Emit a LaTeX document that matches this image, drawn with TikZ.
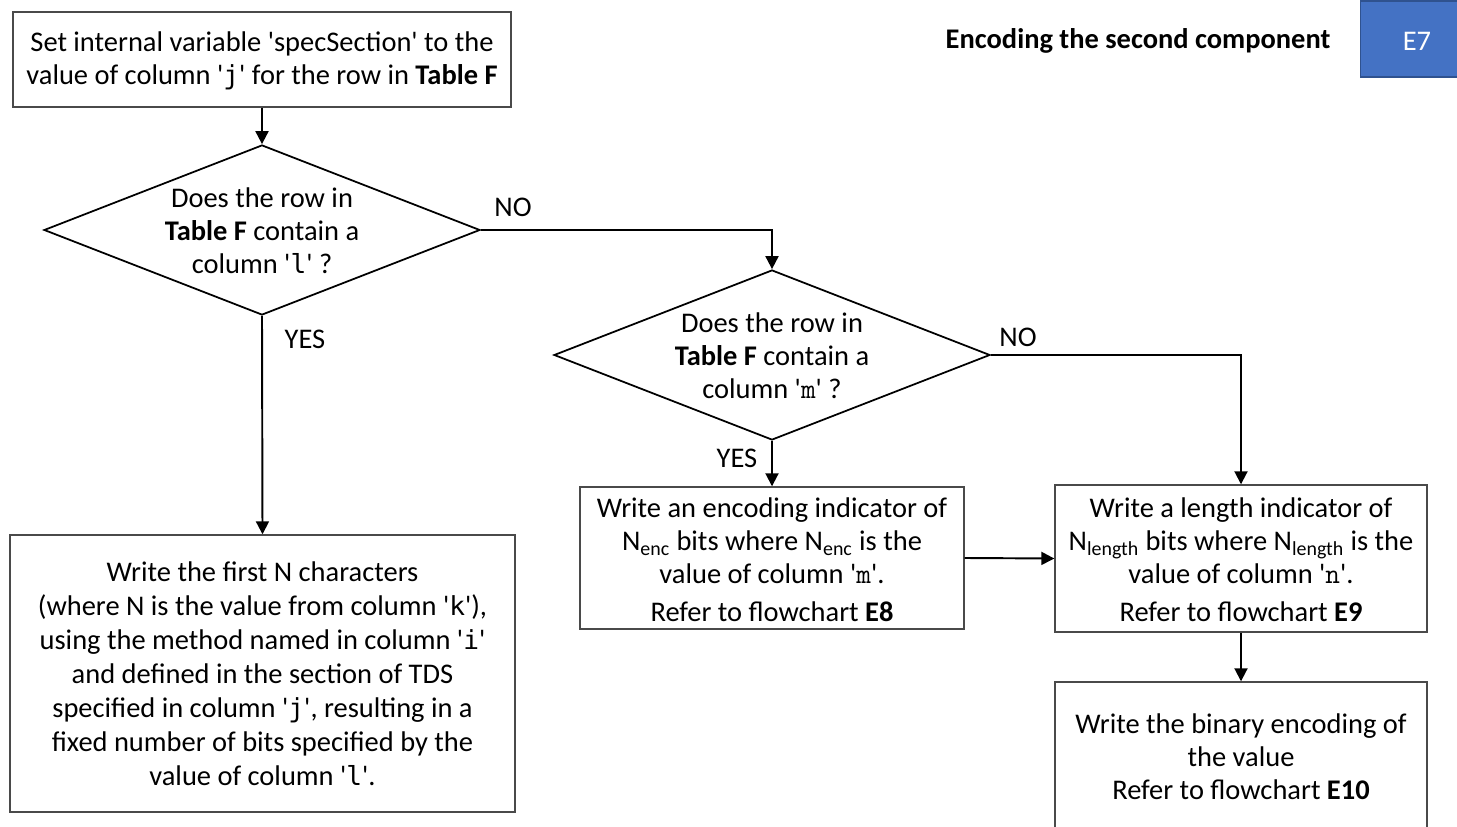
\documentclass[tikz,border=0pt]{standalone}
\usepackage{fontspec}
\setmainfont{Carlito}
\newfontfamily\consmono[Scale=0.92]{DejaVu Sans Mono}
\newfontfamily\courmono[Scale=1.0]{Latin Modern Mono}
\usetikzlibrary{shapes.geometric,arrows.meta}
\definecolor{boxline}{HTML}{4A4A4A}
\definecolor{tagblue}{HTML}{4472C4}
\definecolor{tagedge}{HTML}{2F528F}
\newcommand{\sq}{\textquotesingle}
\newcommand{\cmo}[1]{\sq{\consmono #1}\sq}
\newcommand{\cou}[1]{\sq{\courmono #1}\sq}
\begin{document}
\begin{tikzpicture}[x=0.02cm,y=-0.02cm,
  font=\fontsize{16.2}{18.9}\selectfont,
  procbox/.style={draw=boxline,line width=0.8pt,align=center,inner sep=0pt},
  decision/.style={diamond,draw=black,line width=1pt,inner sep=0pt},
  flow/.style={line width=1.1pt,-{Triangle[length=7.4pt,width=7.4pt]}},
  lbl/.style={inner sep=0pt}]
\useasboundingbox (0,0) rectangle (1457,827);

% title and tag
\node[lbl,font=\fontsize{16.2}{18.9}\selectfont\bfseries] (title) at (1138,41) {Encoding the second component};
\node[fill=tagblue,draw=tagedge,line width=0.6pt,minimum width=97*0.02cm,minimum height=76*0.02cm,
  inner sep=0pt] (tag) at (1409,39) {};
\node[lbl,text=white] (tagtext) at (1417,41) {E7};

% process boxes
\node[procbox,minimum width=498*0.02cm,minimum height=95*0.02cm] (set) at (262,59.5) {};
\node[lbl,align=center] (settext) at (262,61)
  {Set internal variable \sq specSection\sq{} to the\\ value of column \cmo{j} for the row in \textbf{Table F}};

\node[decision,minimum width=436*0.02cm,minimum height=170*0.02cm] (d1) at (262,230) {};
\node[lbl,align=center] (d1text) at (262,231) {Does the row in\\ \textbf{Table F} contain a\\ column \cmo{l} ?};

\node[decision,minimum width=436*0.02cm,minimum height=170*0.02cm] (d2) at (772,355) {};
\node[lbl,align=center] (d2text) at (772,356) {Does the row in\\ \textbf{Table F} contain a\\ column \cou{m} ?};

\node[procbox,minimum width=505*0.02cm,minimum height=277*0.02cm,
  font=\fontsize{16.2}{19.3}\selectfont] (chars) at (262.5,673.5)
  {Write the first N characters\\ (where N is the value from column \cmo{k}),\\
   using the method named in column \cmo{i}\\ and defined in the section of TDS\\
   specified in column \cmo{j}, resulting in a\\ fixed number of bits specified by the\\
   value of column \cmo{l}.};

\node[procbox,minimum width=384*0.02cm,minimum height=142*0.02cm] (enc) at (772,558) {};
\node[lbl,align=center] (enctext) at (772,559.5)
  {Write an encoding indicator of\\ N\textsubscript{enc} bits where N\textsubscript{enc} is the\\
   value of column \cou{m}.\\[2.2pt] Refer to flowchart \textbf{E8}};

\node[procbox,minimum width=372*0.02cm,minimum height=147*0.02cm] (len) at (1241,558.5) {};
\node[lbl,align=center] (lentext) at (1241,559.5)
  {Write a length indicator of\\ N\textsubscript{length} bits where N\textsubscript{length} is the\\
   value of column \cou{n}.\\[2.2pt] Refer to flowchart \textbf{E9}};

% last box runs past the lower edge
\begin{scope}
\clip (0,0) rectangle (1457,827);
\node[procbox,minimum width=372*0.02cm,minimum height=200*0.02cm] (bin) at (1241,782) {};
\end{scope}
\node[lbl,align=center] (bintext) at (1241,757)
  {Write the binary encoding of\\ the value\\ Refer to flowchart \textbf{E10}};

% connectors
\draw[flow] (set.south) -- (d1.north);
\draw[flow] (d1.south) -- (chars.north);
\draw[flow] (d1.east) -| (d2.north);
\draw[flow] (d2.south) -- (enc.north);
\draw[flow] (d2.east) -| (len.north);
\draw[flow] (enc.east) -- (len.west);
\draw[flow] (len.south) -- (bin.north);

% branch labels
\node[lbl] (no1) at (513,207) {NO};
\node[lbl] (yes1) at (305,339) {YES};
\node[lbl] (no2) at (1018,337) {NO};
\node[lbl] (yes2) at (737,458) {YES};
\end{tikzpicture}
\end{document}
